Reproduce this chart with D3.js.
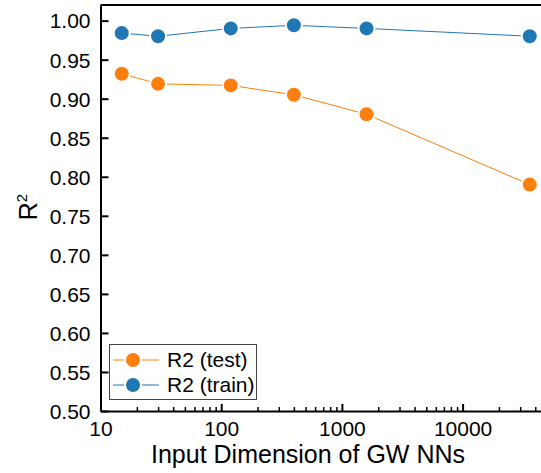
<!DOCTYPE html>
<html>
<head>
<meta charset="utf-8">
<script src="https://cdn.jsdelivr.net/npm/d3@7"></script>
<style>
  body { margin: 0; background: #fff; overflow: hidden; }
  svg { display: block; }
  svg text { font-family: "Liberation Sans", Arial, sans-serif; fill: #000; }
</style>
</head>
<body>
<div id="wrapper"></div>
<script>
// input dimensions (x, log scale) and R2 values
const dims = [15, 30, 120, 400, 1600, 36000]
const r2Test = [0.932, 0.919, 0.917, 0.905, 0.880, 0.790]
const r2Train = [0.984, 0.980, 0.990, 0.994, 0.990, 0.980]
const yTicks = [0.50, 0.55, 0.60, 0.65, 0.70, 0.75, 0.80, 0.85, 0.90, 0.95, 1.00]
const xTicks = [10, 100, 1000, 10000]
const seriesNames = ["R2 (test)", "R2 (train)"]

const colors = { test: "#ff7f0e", train: "#1f77b4" }

const dimensions = {
  width: 541,
  height: 473,
  left: 100.5,
  top: 5,
  bottom: 411
}

const xScale = d3.scaleLog()
  .domain([10, 50000])
  .range([dimensions.left, dimensions.left + 120.7 * Math.log10(5000)])

const yScale = d3.scaleLinear()
  .domain([0.5, 1.02])
  .range([dimensions.bottom, dimensions.top])

const svg = d3.select("#wrapper")
  .append("svg")
  .attr("width", dimensions.width)
  .attr("height", dimensions.height)

// frame top (the right side falls outside the picture)
svg.append("line")
  .attr("x1", xScale.range()[0]).attr("x2", xScale.range()[1])
  .attr("y1", dimensions.top).attr("y2", dimensions.top)
  .attr("stroke", "#000").attr("stroke-width", 2)

// y axis
const yAxis = svg.append("g")
  .attr("transform", `translate(${dimensions.left},0)`)
  .call(d3.axisLeft(yScale).tickValues(yTicks).tickFormat(d3.format(".2f"))
    .tickSizeInner(-8).tickSizeOuter(0).tickPadding(10))
yAxis.select(".domain").attr("stroke-width", 2)
yAxis.selectAll(".tick line").attr("stroke-width", 2)
yAxis.selectAll("text").attr("font-size", 21).attr("dy", "0.35em")

// x axis minor ticks
const minorTicks = []
for (let p = 10; p < 50000; p *= 10) {
  for (let m = 2; m <= 9; m++) if (p * m <= 50000) minorTicks.push(p * m)
}
svg.append("g")
  .attr("transform", `translate(0,${dimensions.bottom})`)
  .call(d3.axisBottom(xScale).tickValues(minorTicks).tickFormat("").tickSizeInner(-4).tickSizeOuter(0))
  .call(g => g.select(".domain").remove())
  .selectAll(".tick line").attr("stroke-width", 1.5)

const xAxis = svg.append("g")
  .attr("transform", `translate(0,${dimensions.bottom})`)
  .call(d3.axisBottom(xScale).tickValues(xTicks).tickFormat(d3.format("d"))
    .tickSizeInner(-7).tickSizeOuter(0).tickPadding(10))
xAxis.select(".domain").attr("stroke-width", 2)
xAxis.selectAll(".tick line").attr("stroke-width", 2)
xAxis.selectAll("text").attr("font-size", 21).attr("dy", "0.71em")

// axis titles
svg.append("text")
  .attr("x", 308).attr("y", 463)
  .attr("text-anchor", "middle")
  .attr("font-size", 25)
  .text("Input Dimension of GW NNs")

const yTitle = svg.append("text")
  .attr("transform", "translate(37,207) rotate(-90)")
  .attr("text-anchor", "middle")
  .attr("font-size", 25)
yTitle.append("tspan").text("R")
yTitle.append("tspan").attr("font-size", 15).attr("dy", -10).text("2")

// series
const line = d3.line()
  .x(d => xScale(d[0]))
  .y(d => yScale(d[1]))

const series = [
  { name: seriesNames[0], color: colors.test, values: r2Test },
  { name: seriesNames[1], color: colors.train, values: r2Train }
]

series.forEach(s => {
  const pts = dims.map((d, i) => [d, s.values[i]])
  svg.append("path")
    .attr("d", line(pts))
    .attr("fill", "none")
    .attr("stroke", s.color)
    .attr("stroke-width", 1)
  svg.selectAll(null)
    .data(pts)
    .join("circle")
    .attr("cx", d => xScale(d[0]))
    .attr("cy", d => yScale(d[1]))
    .attr("r", 8)
    .attr("fill", s.color)
    .attr("stroke", "#fff")
    .attr("stroke-width", 2)
})

// legend
const legend = svg.append("g")
legend.append("rect")
  .attr("x", 109.5).attr("y", 344.5)
  .attr("width", 147).attr("height", 55)
  .attr("fill", "#fff")
  .attr("stroke", "#444")
  .attr("stroke-width", 1)

series.forEach((s, i) => {
  const cy = 360 + i * 25
  legend.append("line")
    .attr("x1", 113).attr("x2", 159)
    .attr("y1", cy).attr("y2", cy)
    .attr("stroke", s.color).attr("stroke-width", 1)
  legend.append("circle")
    .attr("cx", 133).attr("cy", cy).attr("r", 8)
    .attr("fill", s.color)
    .attr("stroke", "#fff")
    .attr("stroke-width", 2)
  legend.append("text")
    .attr("x", 167).attr("y", cy + 7)
    .attr("font-size", 21)
    .text(s.name)
})
</script>
</body>
</html>
